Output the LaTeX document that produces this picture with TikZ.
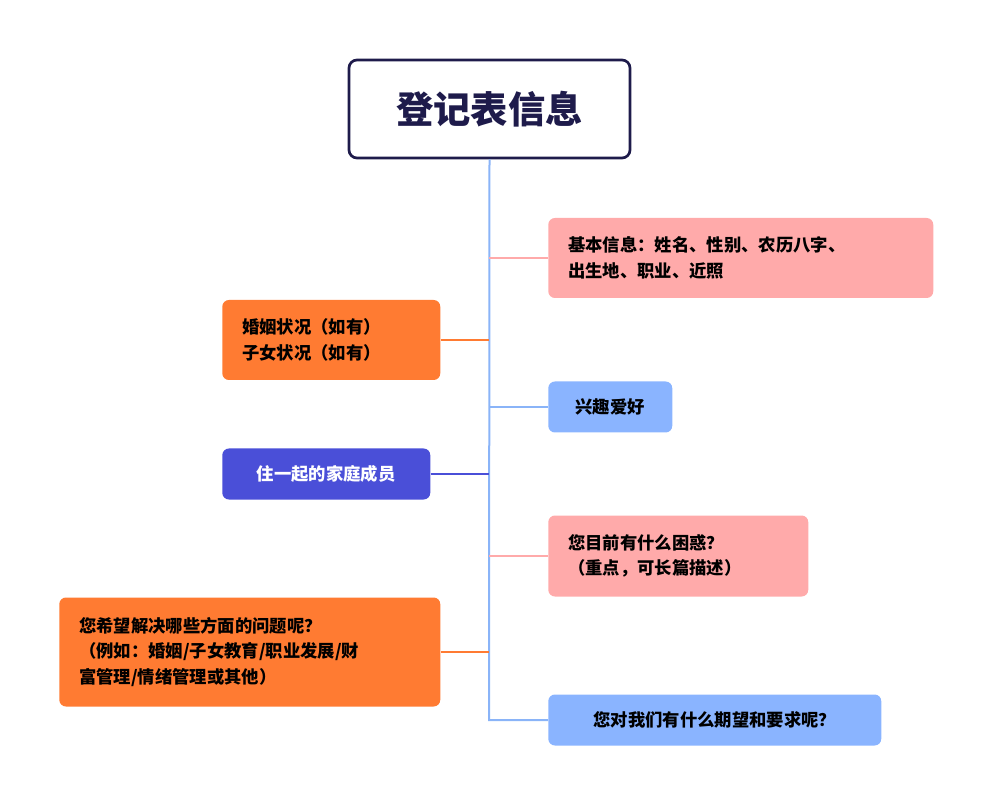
\documentclass[tikz,border=0pt]{standalone}
\usepackage{fontspec}
\setmainfont{Noto Sans CJK SC}
\definecolor{navy}{HTML}{1E1B4B}
\definecolor{pinkc}{HTML}{FFAAAA}
\definecolor{bluec}{HTML}{8AB4FF}
\definecolor{orangec}{HTML}{FF7B32}
\definecolor{indigoc}{HTML}{4A4FD8}
\definecolor{trunkc}{HTML}{8AB4F8}
\begin{document}
\begin{tikzpicture}[x=0.75pt,y=-0.75pt,
 box/.style={rounded corners=5pt,inner xsep=15pt,inner ysep=0pt,align=left,anchor=west,font=\fontsize{13pt}{19pt}\selectfont\bfseries},
 pinkbox/.style={box,fill=pinkc},
 bluebox/.style={box,fill=bluec},
 orangebox/.style={box,fill=orangec},
 link/.style={line width=1.5pt}]
\useasboundingbox (0,0) rectangle (982,805);
\node[draw=navy,line width=2pt,fill=white,rounded corners=6pt,minimum width=281*0.75pt,minimum height=98*0.75pt,font=\fontsize{28pt}{32pt}\selectfont\bfseries,text=navy] (root) at (489.5,109) {登记表信息};
\coordinate (top) at (489,158);
\coordinate (bot) at (489,720);
\node[pinkbox,minimum width=375*0.75pt,minimum height=80*0.75pt,text width=345*0.75pt] (n1) at (548,258) {基本信息：姓名、性别、农历八字、\\出生地、职业、近照};
\node[bluebox,minimum width=124*0.75pt,minimum height=51*0.75pt] (n2) at (548,407) {兴趣爱好};
\node[pinkbox,minimum width=250*0.75pt,minimum height=81*0.75pt,text width=220*0.75pt] (n3) at (548,556) {您目前有什么困惑？\\（重点，可长篇描述）};
\node[bluebox,minimum width=333*0.75pt,minimum height=51*0.75pt] (n4) at (548,720) {您对我们有什么期望和要求呢？};
\node[orangebox,minimum width=208*0.75pt,minimum height=80*0.75pt,text width=178*0.75pt] (n5) at (222,340) {婚姻状况（如有）\\子女状况（如有）};
\node[box,fill=indigoc,text=white,minimum width=208*0.75pt,minimum height=51*0.75pt] (n6) at (222,474) {住一起的家庭成员};
\node[orangebox,minimum width=371*0.75pt,minimum height=109*0.75pt,text width=341*0.75pt] (n7) at (59,652) {您希望解决哪些方面的问题呢？\\（例如：婚姻/子女教育/职业发展/财\\富管理/情绪管理或其他）};
\draw[link,trunkc] (root.south) -- (bot) -- (n4.west);
\draw[link,pinkc] (n1.west) -- (489,258);
\draw[link,trunkc] (n2.west) -- (489,407);
\draw[link,pinkc] (n3.west) -- (489,556);
\draw[link,orangec] (n5.east) -- (489,340);
\draw[link,indigoc] (n6.east) -- (489,474);
\draw[link,orangec] (n7.east) -- (489,652);
\end{tikzpicture}
\end{document}
